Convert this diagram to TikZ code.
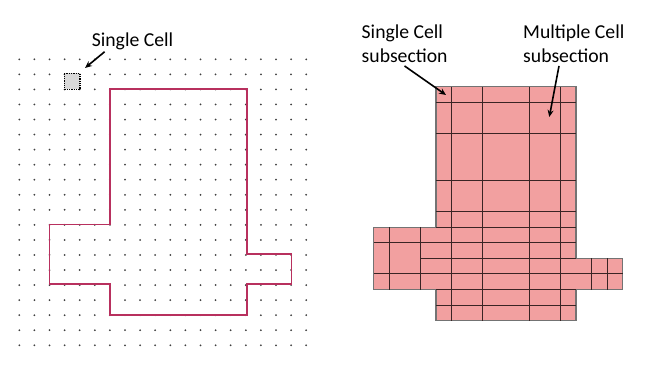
\documentclass[tikz,border=0pt]{standalone}
\usepackage{fontspec}
\setmainfont{Carlito}
\usepackage{tikz}
\usetikzlibrary{arrows.meta, positioning}
\definecolor{Raspberry}{HTML}{B8305E}
\definecolor{CellPink}{HTML}{F2A0A0}
\definecolor{CellLine}{HTML}{3A2424}

\tikzset{
  lbl/.style={inner sep=0pt, align=left, font=\fontsize{19.7}{23.7}\selectfont},
  pointer/.style={-{Stealth[length=7pt,width=6pt]}, line width=1.6pt},
}

\begin{document}
\begin{tikzpicture}[x=1pt, y=-1pt]
        \useasboundingbox (0,0) rectangle (650,365);
        % Lưới điểm
        \foreach \i in {0,...,19}
          \foreach \j in {0,...,19}
            \fill[black!75] (19.3+15.1*\i, 59.3+15.05*\j) circle (1pt);
        % Ô đơn
        \filldraw[fill=black!15, draw=black, line width=1.3pt, densely dotted] (64.3,73.3) rectangle (79.9,89.3);
        \node[lbl] (lblcell) at (132.5,41) {Single Cell};
        \coordinate (celltip) at (85,68);
        \draw[pointer] ([xshift=13pt,yshift=-2pt]lblcell.south west) -- (celltip);
        % Đường biên
        \draw[Raspberry, line width=1.8pt, line join=miter]
          (110,89.3) -- (246.7,89.3) -- (246.7,254) -- (291.5,254) -- (291.5,284.3)
          -- (246.7,284.3) -- (246.7,315) -- (110,315) -- (110,284.3) -- (49.5,284.3)
          -- (49.5,224.5) -- (110,224.5) -- cycle;
        % Lưới con bên phải
        \begin{scope}[shift={(436,86.7)}, x=15.56pt, y=-15.6pt]
          \filldraw[fill=CellPink, draw=black!55, line width=1.2pt]
            (0,0) -- (9,0) -- (9,11) -- (12,11) -- (12,13) -- (9,13) -- (9,15)
            -- (0,15) -- (0,13) -- (-4,13) -- (-4,9) -- (0,9) -- cycle;
          \begin{scope}[CellLine, line width=0.9pt]
            \foreach \c in {1,3,6,8} \draw (\c,0) -- (\c,15);
            \foreach \r in {1,3,6,8,9,10,12,13,14} \draw (0,\r) -- (9,\r);
            \foreach \c in {-3,-1} \draw (\c,9) -- (\c,13);
            \foreach \c in {10,11} \draw (\c,11) -- (\c,13);
            \draw (-4,10) -- (0,10);
            \draw (-4,12) -- (0,12);
            \draw (9,12) -- (12,12);
            \draw (-1,11) -- (0,11);
            \draw (0,11) -- (9,11);
          \end{scope}
        \end{scope}
        % Nhãn bên phải
        \node[lbl, anchor=north west] (lblsingle) at (361.5,25) {Single Cell\\subsection};
        \node[lbl, anchor=north west] (lblmulti) at (523,25) {Multiple Cell\\subsection};
        \coordinate (singletip) at (446,95);
        \coordinate (multitip) at (549.3,117);
        \draw[pointer] ([xshift=43pt,yshift=-3pt]lblsingle.south west) -- (singletip);
        \draw[pointer] ([xshift=36pt,yshift=-3pt]lblmulti.south west) -- (multitip);
\end{tikzpicture}
\end{document}
